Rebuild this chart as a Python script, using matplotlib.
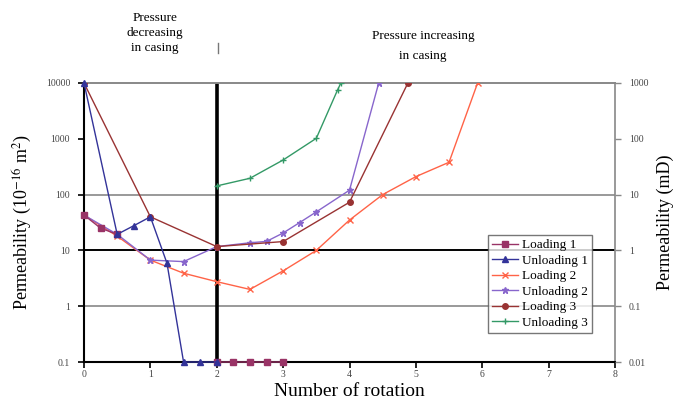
import numpy as np
import matplotlib
matplotlib.use("Agg")
import matplotlib.pyplot as plt
from matplotlib.lines import Line2D

plt.rcParams['font.family'] = ['Liberation Serif', 'DejaVu Serif']
plt.rcParams['mathtext.fontset'] = 'stix'

nan = np.nan

# Loading 1
x_l1 = [0, 0.25, 0.5, nan, 2, 2.25, 2.5, 2.75, 3]
y_l1 = [43, 25, 19.4, nan, 0.1, 0.1, 0.1, 0.1, 0.1]
# Unloading 1
x_u1 = [0, 0.5, 0.75, 1, 1.25, 1.5, 1.75, 2]
y_u1 = [10000, 19.4, 27.7, 40, 5.9, 0.1, 0.1, 0.1]
# Loading 2
x_l2 = [0, 0.5, 1, 1.5, 2, 2.5, 3, 3.5, 4, 4.5, 5, 5.5, 5.93]
y_l2 = [43, 18, 6.7, 3.9, 2.75, 2.0, 4.3, 10, 35, 100, 210, 380, 10000]
# Unloading 2
x_u2 = [0, 0.5, 1, 1.5, 2, 2.5, 2.75, 3, 3.25, 3.5, 4, 4.44]
y_u2 = [43, 19.4, 6.7, 6.3, 11.7, 13.7, 14.5, 20.5, 31.6, 49, 120, 10000]
# Loading 3
x_l3 = [0, 1, 2, 3, 4, 4.88]
y_l3 = [10000, 40, 11.7, 14.4, 73, 10000]
# Unloading 3
x_u3 = [2, 2.5, 3, 3.5, 3.82, 3.87]
y_u3 = [143, 196, 417, 1020, 7500, 10000]

x_ticks = [0, 1, 2, 3, 4, 5, 6, 7, 8]
left_ticks = [0.1, 1, 10, 100, 1000, 10000]
left_labels = ['0.1', '1', '10', '100', '1000', '10000']
right_labels = ['0.01', '0.1', '1', '10', '100', '1000']

fig = plt.figure(figsize=(6.89, 4.03), dpi=100)
ax = fig.add_axes([84/689, 1-362/403, 531/689, 279/403])

# horizontal guide lines
ax.axhline(100, color='#999999', lw=1.4, zorder=1)
ax.axhline(10, color='black', lw=1.4, zorder=1)
ax.axhline(1, color='#999999', lw=1.4, zorder=1)

# boundary between phases
ax.axvline(2, color='black', lw=2.6, zorder=2)

ms = 4
ax.plot(x_l1, y_l1, color='#993366', marker='s', ms=ms+0.5, lw=1, label='Loading 1', zorder=5, clip_on=False)
ax.plot(x_u1, y_u1, color='#333399', marker='^', ms=ms, lw=1, label='Unloading 1', zorder=5, clip_on=False)
ax.plot(x_l2, y_l2, color='#FF6347', marker='x', ms=ms+1, lw=1, label='Loading 2', zorder=3)
ax.plot(x_u2, y_u2, color='#8866CC', marker='*', ms=ms+1, lw=1, label='Unloading 2', zorder=3)
ax.plot(x_l3, y_l3, color='#993333', marker='o', ms=ms, lw=1, label='Loading 3', zorder=3)
ax.plot(x_u3, y_u3, color='#339966', marker='+', ms=ms+1, lw=1, label='Unloading 3', zorder=3)

ax.set_yscale('log')
ax.set_xlim(0, 8)
ax.set_ylim(0.1, 10000)
ax.set_xticks(x_ticks)
ax.set_xticklabels([str(t) for t in x_ticks], fontsize=7, color='#444444')
ax.set_yticks(left_ticks)
ax.set_yticklabels(left_labels, fontsize=7, color='#444444')
ax.minorticks_off()
ax.tick_params(direction='out', length=4, width=1.2, pad=6)
ax.tick_params(axis='x', pad=2)

ax.spines['left'].set_linewidth(1.5)
ax.spines['bottom'].set_linewidth(1.5)
ax.spines['top'].set_color('#888888')
ax.spines['top'].set_linewidth(1.4)
ax.spines['right'].set_color('#888888')
ax.spines['right'].set_linewidth(1.2)

ax2 = ax.twinx()
ax2.set_yscale('log')
ax2.set_ylim(0.1, 10000)
ax2.set_yticks(left_ticks)
ax2.set_yticklabels(right_labels, fontsize=7, color='#444444')
ax2.minorticks_off()
ax2.tick_params(direction='out', length=4, width=1, pad=6, color='#888888')
for s in ax2.spines.values():
    s.set_visible(False)

ax.set_ylabel('Permeability (10$^{-16}$ m$^{2}$)', fontsize=13)
ax.yaxis.set_label_coords(-0.094, 0.5)
ax2.set_ylabel('Permeability (mD)', fontsize=13)
ax2.yaxis.set_label_coords(1.078, 0.5)
ax.set_xlabel('Number of rotation', fontsize=14)
ax.xaxis.set_label_coords(0.5, -0.076)

fig.text(155/689, 1-33/403, 'Pressure\ndecreasing\nin casing', ha='center', va='center',
         fontsize=9.5, linespacing=1.3)
fig.text(423/689, 1-46/403, 'Pressure increasing\nin casing', ha='center', va='center',
         fontsize=9.5, linespacing=1.9)
fig.add_artist(Line2D([218/689, 218/689], [1-43/403, 1-53/403], color='#777777', lw=1))

leg = ax.legend(loc='upper right', bbox_to_anchor=(0.957, 0.455), borderaxespad=0,
                fontsize=9.5, frameon=True, fancybox=False, handlelength=2.0,
                handletextpad=0.3, labelspacing=0.25, borderpad=0.3)
leg.get_frame().set_edgecolor('#555555')
leg.get_frame().set_linewidth(1)
leg.set_zorder(10)

fig.savefig('out.png', dpi=100)
